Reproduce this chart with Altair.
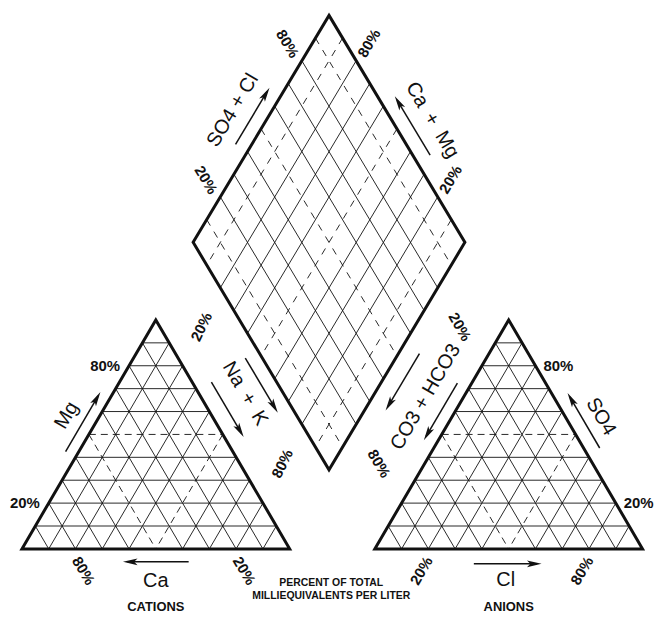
import math
import altair as alt
import pandas as pd

# ---------------- data (percent levels and labels) ----------------
GRID_LEVELS = [10, 20, 30, 40, 50, 60, 70, 80, 90]   # grid lines, percent
TRI_DASHED = [50]                                    # dashed lines in the triangles
DIAMOND_DASHED = [10, 50, 90]                        # dashed lines in the diamond
PCT_TICKS = [20, 80]                                 # labelled percentages

CATION_TITLE = "CATIONS"
ANION_TITLE = "ANIONS"
UNITS_LINES = ["PERCENT OF TOTAL", "MILLIEQUIVALENTS PER LITER"]
NAMES = {
    "mg": "Mg", "nak": "Na\u2002+\u2002K", "ca": "Ca",
    "cl": "Cl", "so4": "SO4", "co3": "CO3 + HCO3",
    "so4cl": "SO4 + Cl", "camg": "Ca\u2002+\u2002Mg",
}

# ---------------- layout (page pixels) ----------------
CAT = {"L": (22, 545), "R": (291, 545), "T": (156.5, 315)}
AN = {"L": (376.5, 545), "R": (645.5, 545), "T": (511, 315)}
DIA = {"T": (330.5, 9), "R": (467, 237), "B": (330.5, 465.5), "L": (194, 237)}
INK = "#111111"


def lerp(a, b, t):
    return (a[0] + (b[0] - a[0]) * t, a[1] + (b[1] - a[1]) * t)


def unit(a, b):
    dx, dy = b[0] - a[0], b[1] - a[1]
    n = math.hypot(dx, dy)
    return (dx / n, dy / n)


def centroid(shape):
    pts = list(shape.values())
    return (sum(p[0] for p in pts) / len(pts), sum(p[1] for p in pts) / len(pts))


def edge_pt(shape, a, b, t, d):
    A, B = shape[a], shape[b]
    p = lerp(A, B, t)
    u = unit(A, B)
    n = (u[1], -u[0])
    c = centroid(shape)
    m = lerp(A, B, 0.5)
    if (m[0] - c[0]) * n[0] + (m[1] - c[1]) * n[1] < 0:
        n = (-n[0], -n[1])
    return (p[0] + d * n[0], p[1] + d * n[1])


def text_angle(u):
    return math.degrees(math.atan2(u[1], u[0])) % 360


def gap_cat(t, s):
    return lerp(lerp(CAT["T"], CAT["R"], t), lerp(DIA["L"], DIA["B"], t), s)


def gap_an(t, s):
    return lerp(lerp(AN["T"], AN["L"], t), lerp(DIA["R"], DIA["B"], t), s)


def add(p, dx, dy):
    return (p[0] + dx, p[1] + dy)


# ---------------- grid segments ----------------
segs = []
for tri in (CAT, AN):
    for p in GRID_LEVELS:
        f = p / 100
        style = "dash" if p in TRI_DASHED else "solid"
        for v, o1, o2 in (("T", "L", "R"), ("L", "T", "R"), ("R", "T", "L")):
            a = lerp(tri[o1], tri[v], f)
            b = lerp(tri[o2], tri[v], f)
            segs.append({"x": a[0], "y": a[1], "x2": b[0], "y2": b[1], "style": style})
for p in GRID_LEVELS:
    f = p / 100
    style = "ddash" if p in DIAMOND_DASHED else "solid"
    a, b = lerp(DIA["T"], DIA["L"], f), lerp(DIA["R"], DIA["B"], f)
    segs.append({"x": a[0], "y": a[1], "x2": b[0], "y2": b[1], "style": style})
    a, b = lerp(DIA["T"], DIA["R"], f), lerp(DIA["L"], DIA["B"], f)
    segs.append({"x": a[0], "y": a[1], "x2": b[0], "y2": b[1], "style": style})
segs = pd.DataFrame(segs)

# ---------------- outlines ----------------
outline = []
for name, shape, order in (("cat", CAT, "LRTLR"), ("an", AN, "LRTLR"), ("dia", DIA, "TRBLTR")):
    for i, k in enumerate(order):
        outline.append({"shape": name, "o": i, "x": shape[k][0], "y": shape[k][1]})
outline = pd.DataFrame(outline)

# ---------------- arrows ----------------
base_c = lerp(CAT["L"], CAT["R"], 0.5)
base_a = lerp(AN["L"], AN["R"], 0.5)
arrows = [
    (edge_pt(CAT, "L", "T", 0.40, 11.5), edge_pt(CAT, "L", "T", 0.66, 11.5)),
    (gap_cat(0.35, 0.23), gap_cat(0.59, 0.23)),
    (gap_cat(0.44, 0.80), gap_cat(0.68, 0.80)),
    (add(base_c, 33, 13), add(base_c, -33, 13)),
    (add(base_a, -35, 15), add(base_a, 33, 15)),
    (edge_pt(AN, "R", "T", 0.41, 14), edge_pt(AN, "R", "T", 0.65, 14)),
    (gap_an(0.33, 0.16), gap_an(0.58, 0.16)),
    (gap_an(0.41, 0.77), gap_an(0.66, 0.77)),
    (edge_pt(DIA, "L", "T", 0.40, 14), edge_pt(DIA, "L", "T", 0.65, 14)),
    (edge_pt(DIA, "R", "T", 0.35, 15), edge_pt(DIA, "R", "T", 0.61, 15)),
]
HEAD_HALF = 7.5
shafts, heads = [], []
for a, b in arrows:
    u = unit(a, b)
    c = (b[0] - HEAD_HALF * 0.6 * u[0], b[1] - HEAD_HALF * 0.6 * u[1])
    shafts.append({"x": a[0], "y": a[1], "x2": c[0], "y2": c[1]})
    hc = (b[0] - HEAD_HALF * u[0], b[1] - HEAD_HALF * u[1])
    heads.append({"x": hc[0], "y": hc[1],
                  "angle": math.degrees(math.atan2(u[0], -u[1])) % 360})
shafts = pd.DataFrame(shafts)
heads = pd.DataFrame(heads)

# ---------------- texts ----------------
ang_tr = text_angle(unit(CAT["T"], CAT["R"]))
ang_lt = text_angle(unit(CAT["L"], CAT["T"]))
ang_dtr = text_angle(unit(DIA["T"], DIA["R"]))
ang_dlt = text_angle(unit(DIA["L"], DIA["T"]))

big = [
    (NAMES["mg"], edge_pt(CAT, "L", "T", 0.52, 29), ang_lt),
    (NAMES["nak"], gap_cat(0.51, 0.55), ang_tr),
    (NAMES["ca"], add(base_c, 0, 32), 0),
    (NAMES["cl"], add(base_a, -3, 31), 0),
    (NAMES["so4"], edge_pt(AN, "R", "T", 0.51, 31), ang_tr),
    (NAMES["co3"], gap_an(0.48, 0.42), ang_lt),
    (NAMES["so4cl"], edge_pt(DIA, "L", "T", 0.505, 34), ang_dlt),
    (NAMES["camg"], edge_pt(DIA, "R", "T", 0.46, 35), ang_dtr),
]
big = pd.DataFrame([{"t": t, "x": p[0], "y": p[1], "angle": a} for t, p, a in big])

pc, pr, pl = [], [], []
for p in PCT_TICKS:
    f = p / 100
    lab = f"{p}%"
    q = add(lerp(CAT["R"], CAT["L"], f), 8, 22)
    pc.append((lab, q, ang_tr))
    q = add(lerp(AN["L"], AN["R"], f), -7, 22)
    pc.append((lab, q, ang_lt))
    q = gap_cat(f, 0.5)
    pc.append((lab, q, text_angle(unit(lerp(CAT["T"], CAT["R"], f), lerp(DIA["L"], DIA["B"], f)))))
    q = gap_an(f, 0.5)
    pc.append((lab, q, text_angle(unit(lerp(DIA["R"], DIA["B"], f), lerp(AN["T"], AN["L"], f)))))
    q = add(lerp(DIA["L"], DIA["T"], f), -14.5, -17)
    pc.append((lab, q, ang_dtr))
    q = add(lerp(DIA["R"], DIA["T"], f), 13, -17.5)
    pc.append((lab, q, ang_dlt))
    pr.append((lab, add(lerp(CAT["L"], CAT["T"], f), -9, 0), 0))
    pl.append((lab, add(lerp(AN["R"], AN["T"], f), 8, 0), 0))


def tdf(rows):
    return pd.DataFrame([{"t": t, "x": p[0], "y": p[1], "angle": a} for t, p, a in rows])


pct_c, pct_r, pct_l = tdf(pc), tdf(pr), tdf(pl)
titles = tdf([(CATION_TITLE, add(base_c, 0, 58), 0), (ANION_TITLE, add(base_a, 0, 58), 0)])
mid_gap = lerp(CAT["R"], AN["L"], 0.5)
units = tdf([(UNITS_LINES[0], add(mid_gap, -1, 34), 0), (UNITS_LINES[1], add(mid_gap, -1, 47), 0)])

# ---------------- chart ----------------
XS = alt.Scale(domain=[8, 654], nice=False, zero=False)
YS = alt.Scale(domain=[8, 609], nice=False, zero=False, reverse=True)
X = alt.X("x:Q", scale=XS, axis=None)
Y = alt.Y("y:Q", scale=YS, axis=None)


def rules(df, **kw):
    return alt.Chart(df).mark_rule(color=INK, **kw).encode(x=X, y=Y, x2="x2:Q", y2="y2:Q")


grid_solid = rules(segs[segs["style"] == "solid"], strokeWidth=0.9)
grid_dash = rules(segs[segs["style"] == "dash"], strokeWidth=0.9, strokeDash=[7, 5])
grid_ddash = rules(segs[segs["style"] == "ddash"], strokeWidth=0.9, strokeDash=[7, 7])

edges = alt.Chart(outline).mark_line(
    color=INK, strokeWidth=3, strokeJoin="miter", strokeCap="butt"
).encode(x=X, y=Y, order="o:Q", detail="shape:N")

shaft_layer = rules(shafts, strokeWidth=1.5)
head_layer = alt.Chart(heads).mark_point(
    shape="M0,-1L0.45,0.95L0,0.5L-0.45,0.95Z", filled=True, size=225,
    color=INK, opacity=1, strokeWidth=0,
).encode(x=X, y=Y, angle=alt.Angle("angle:Q", scale=None))


def texts(df, **kw):
    return alt.Chart(df).mark_text(color=INK, baseline="middle", **kw).encode(
        x=X, y=Y, text="t:N", angle=alt.Angle("angle:Q", scale=None)
    )


big_layer = texts(big, font="Liberation Sans", fontSize=20, align="center")
pct_c_layer = texts(pct_c, font="Liberation Sans", fontSize=15, fontWeight="bold", align="center")
pct_r_layer = texts(pct_r, font="Liberation Sans", fontSize=15, fontWeight="bold", align="right")
pct_l_layer = texts(pct_l, font="Liberation Sans", fontSize=15, fontWeight="bold", align="left")
title_layer = texts(titles, font="Liberation Sans", fontSize=13, fontWeight="bold", align="center")
unit_layer = texts(units, font="Liberation Sans", fontSize=10.5, fontWeight="bold", align="center")

chart = alt.layer(
    grid_solid, grid_dash, grid_ddash, edges, shaft_layer, head_layer,
    big_layer, pct_c_layer, pct_r_layer, pct_l_layer, title_layer, unit_layer,
).properties(width=646, height=601, padding=0, background="white").configure_view(strokeWidth=0)

chart.save("out.html", embed_options={"renderer": "svg", "actions": False})
